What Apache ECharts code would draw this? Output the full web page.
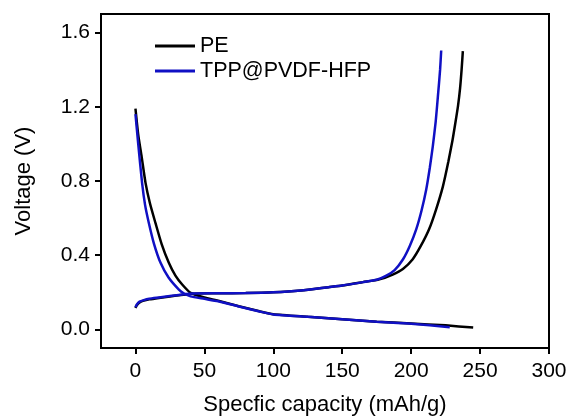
<!DOCTYPE html>
<html>
<head>
<meta charset="utf-8">
<script src="https://cdn.jsdelivr.net/npm/echarts@6/dist/echarts.min.js"></script>
<style>
  html, body { margin: 0; padding: 0; background: #fff; }
  #main { width: 569px; height: 416px; }
</style>
</head>
<body>
<div id="main"></div>
<script>
// tick labels
var xTicks = [0, 50, 100, 150, 200, 250, 300];
var yTicks = [0, 0.4, 0.8, 1.2, 1.6];

// PE: [capacity mAh/g, voltage V]
var peDischarge = [
  [0, 1.19], [2, 1.05], [4.5, 0.93], [7.3, 0.79], [10.5, 0.68], [14.5, 0.574],
  [19, 0.46], [24.2, 0.359], [29, 0.29], [33.9, 0.242], [40, 0.197], [50, 0.172],
  [60, 0.155], [75, 0.125], [90, 0.098], [100, 0.082], [125, 0.068], [150, 0.055],
  [175, 0.042], [200, 0.032], [225, 0.022], [245, 0.01]
];
var peCharge = [
  [0, 0.115], [1, 0.13], [3, 0.145], [6, 0.155], [10, 0.162], [17, 0.17],
  [25, 0.178], [41, 0.193], [60, 0.195], [80, 0.196], [100, 0.2], [120, 0.21],
  [140, 0.228], [150, 0.237], [165, 0.255], [177, 0.27], [186.6, 0.296],
  [194, 0.326], [201, 0.377], [207, 0.45], [213, 0.54], [218, 0.645],
  [223, 0.77], [227, 0.905], [230, 1.02], [232, 1.11], [234, 1.205],
  [235.5, 1.3], [236.6, 1.4], [237.5, 1.5]
];

// TPP@PVDF-HFP
var tppDischarge = [
  [0, 1.16], [2, 1.0], [4.8, 0.79], [7, 0.67], [9.7, 0.574], [13.5, 0.46],
  [18.2, 0.359], [24, 0.28], [31.5, 0.215], [35, 0.195], [40, 0.178], [50, 0.165],
  [60, 0.152], [75, 0.124], [90, 0.097], [100, 0.081], [125, 0.068], [150, 0.055],
  [175, 0.042], [200, 0.031], [228, 0.012]
];
var tppCharge = [
  [0, 0.12], [1, 0.135], [3, 0.15], [6, 0.158], [10, 0.165], [17, 0.172],
  [25, 0.18], [41, 0.194], [60, 0.195], [80, 0.196], [100, 0.2], [120, 0.21],
  [140, 0.228], [150, 0.237], [165, 0.255], [175, 0.268], [182, 0.29],
  [188, 0.32], [194, 0.377], [199, 0.45], [203.6, 0.538], [207.5, 0.64],
  [210.9, 0.753], [213.5, 0.87], [215.7, 0.987], [217.8, 1.12], [219.4, 1.256],
  [221, 1.4], [221.8, 1.503]
];

var black = '#000000';
var blue = '#1010c4';
var font = 'Liberation Sans, Arial, sans-serif';

function curve(name, data, color) {
  return {
    name: name,
    type: 'line',
    data: data,
    smooth: 0.2,
    symbol: 'none',
    lineStyle: { color: color, width: 2.5 },
    itemStyle: { color: color }
  };
}

var myChart = echarts.init(document.getElementById('main'));
myChart.setOption({
  animation: false,
  grid: {
    left: 101, top: 14, right: 20, bottom: 68,
    outerBoundsMode: 'none',
    show: true, borderColor: black, borderWidth: 2, backgroundColor: '#fff'
  },
  legend: {
    orient: 'vertical',
    left: 150, top: 30,
    icon: 'rect',
    itemWidth: 40, itemHeight: 3,
    itemGap: 3,
    textStyle: { fontFamily: font, fontSize: 21.5, color: black },
    data: ['PE', 'TPP@PVDF-HFP']
  },
  xAxis: {
    type: 'value',
    min: -25, max: 300,
    name: 'Specfic capacity (mAh/g)',
    nameLocation: 'middle',
    nameGap: 46,
    nameTextStyle: { fontFamily: font, fontSize: 22, color: black },
    axisLine: { onZero: false, lineStyle: { color: black, width: 2 } },
    axisTick: { customValues: xTicks, length: 6, lineStyle: { color: black, width: 2 } },
    axisLabel: { customValues: xTicks, fontFamily: font, fontSize: 21, color: black, margin: 13 },
    splitLine: { show: false }
  },
  yAxis: {
    type: 'value',
    min: -0.1, max: 1.7,
    name: 'Voltage (V)',
    nameLocation: 'middle',
    nameGap: 66,
    nameTextStyle: { fontFamily: font, fontSize: 22, color: black },
    axisLine: { onZero: false, lineStyle: { color: black, width: 2 } },
    axisTick: { customValues: yTicks, length: 6, lineStyle: { color: black, width: 2 } },
    axisLabel: {
      customValues: yTicks, fontFamily: font, fontSize: 21, color: black, margin: 11,
      formatter: function (v) { return v.toFixed(1); }
    },
    splitLine: { show: false }
  },
  series: [
    curve('PE', peDischarge, black),
    curve('PE', peCharge, black),
    curve('TPP@PVDF-HFP', tppDischarge, blue),
    curve('TPP@PVDF-HFP', tppCharge, blue)
  ]
});
</script>
</body>
</html>
